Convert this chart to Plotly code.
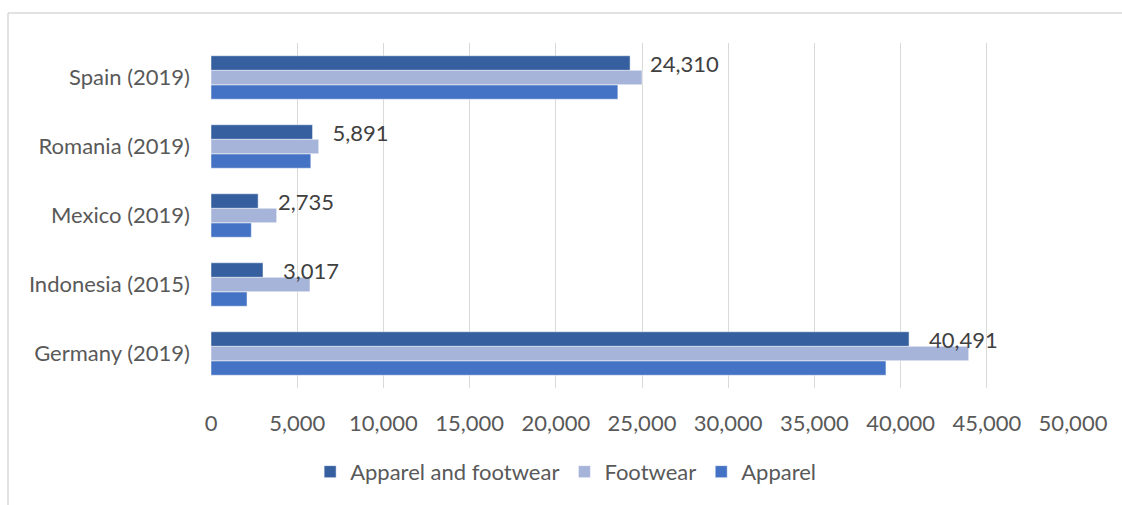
import plotly.graph_objects as go

categories = ["Germany (2019)", "Indonesia (2015)", "Mexico (2019)", "Romania (2019)", "Spain (2019)"]
apparel_footwear = [40491, 3017, 2735, 5891, 24310]
footwear = [43950, 5740, 3810, 6250, 25000]
apparel = [39150, 2090, 2340, 5790, 23600]
x_ticks = [0, 5000, 10000, 15000, 20000, 25000, 30000, 35000, 40000, 45000, 50000]

FONT = "Lato"
FS = 22
fig = go.Figure()

fig.add_trace(go.Bar(
    y=categories, x=apparel, orientation="h", name="Apparel",
    marker=dict(color="#4472C4", line=dict(color="#FFFFFF", width=0.5)),
    legendrank=3,
))
fig.add_trace(go.Bar(
    y=categories, x=footwear, orientation="h", name="Footwear",
    marker=dict(color="#A7B4DA", line=dict(color="#FFFFFF", width=0.5)),
    legendrank=2,
))
fig.add_trace(go.Bar(
    y=categories, x=apparel_footwear, orientation="h", name="Apparel and footwear",
    marker=dict(color="#355F9F", line=dict(color="#FFFFFF", width=0.5)),
    text=[f"{v:,}" for v in apparel_footwear],
    texttemplate="\u00a0\u00a0\u00a0%{text}",
    textposition="outside", constraintext="none", cliponaxis=False,
    textfont=dict(family=FONT, size=FS, color="#404040"),
    legendrank=1,
))

fig.update_layout(
    width=1122, height=505,
    margin=dict(l=211, r=49, t=43, b=117),
    paper_bgcolor="white", plot_bgcolor="white",
    barmode="group", bargap=0.37, bargroupgap=0,
    font=dict(family=FONT, size=FS, color="#595959"),
    showlegend=True,
    legend=dict(
        orientation="h", x=0.115, xanchor="left", y=-0.243, yanchor="middle",
        font=dict(family=FONT, size=FS, color="#595959"),
        traceorder="normal",
    ),
    xaxis=dict(
        range=[0, 50000], tickvals=x_ticks,
        ticktext=[f"{v:,}" for v in x_ticks],
        showgrid=True, gridcolor="#D9D9D9", gridwidth=1.3,
        zeroline=False, showline=False,
        ticklabelstandoff=20,
        tickfont=dict(family=FONT, size=FS, color="#595959"),
    ),
    yaxis=dict(
        showgrid=False, zeroline=False, showline=False,
        ticklabelstandoff=20,
        tickfont=dict(family=FONT, size=FS, color="#595959"),
    ),
    shapes=[
        dict(type="line", xref="paper", yref="paper", x0=-0.2355, x1=-0.2355, y0=-0.34, y1=1.087,
             line=dict(color="#D9D9D9", width=1.5)),
        dict(type="line", xref="paper", yref="paper", x0=-0.2355, x1=1.06, y0=1.087, y1=1.087,
             line=dict(color="#D9D9D9", width=1.5)),
    ],
)

fig.write_html(
    "out.html",
    config={"displayModeBar": False},
    post_script="document.body.style.margin='0';document.body.style.padding='0';",
)
